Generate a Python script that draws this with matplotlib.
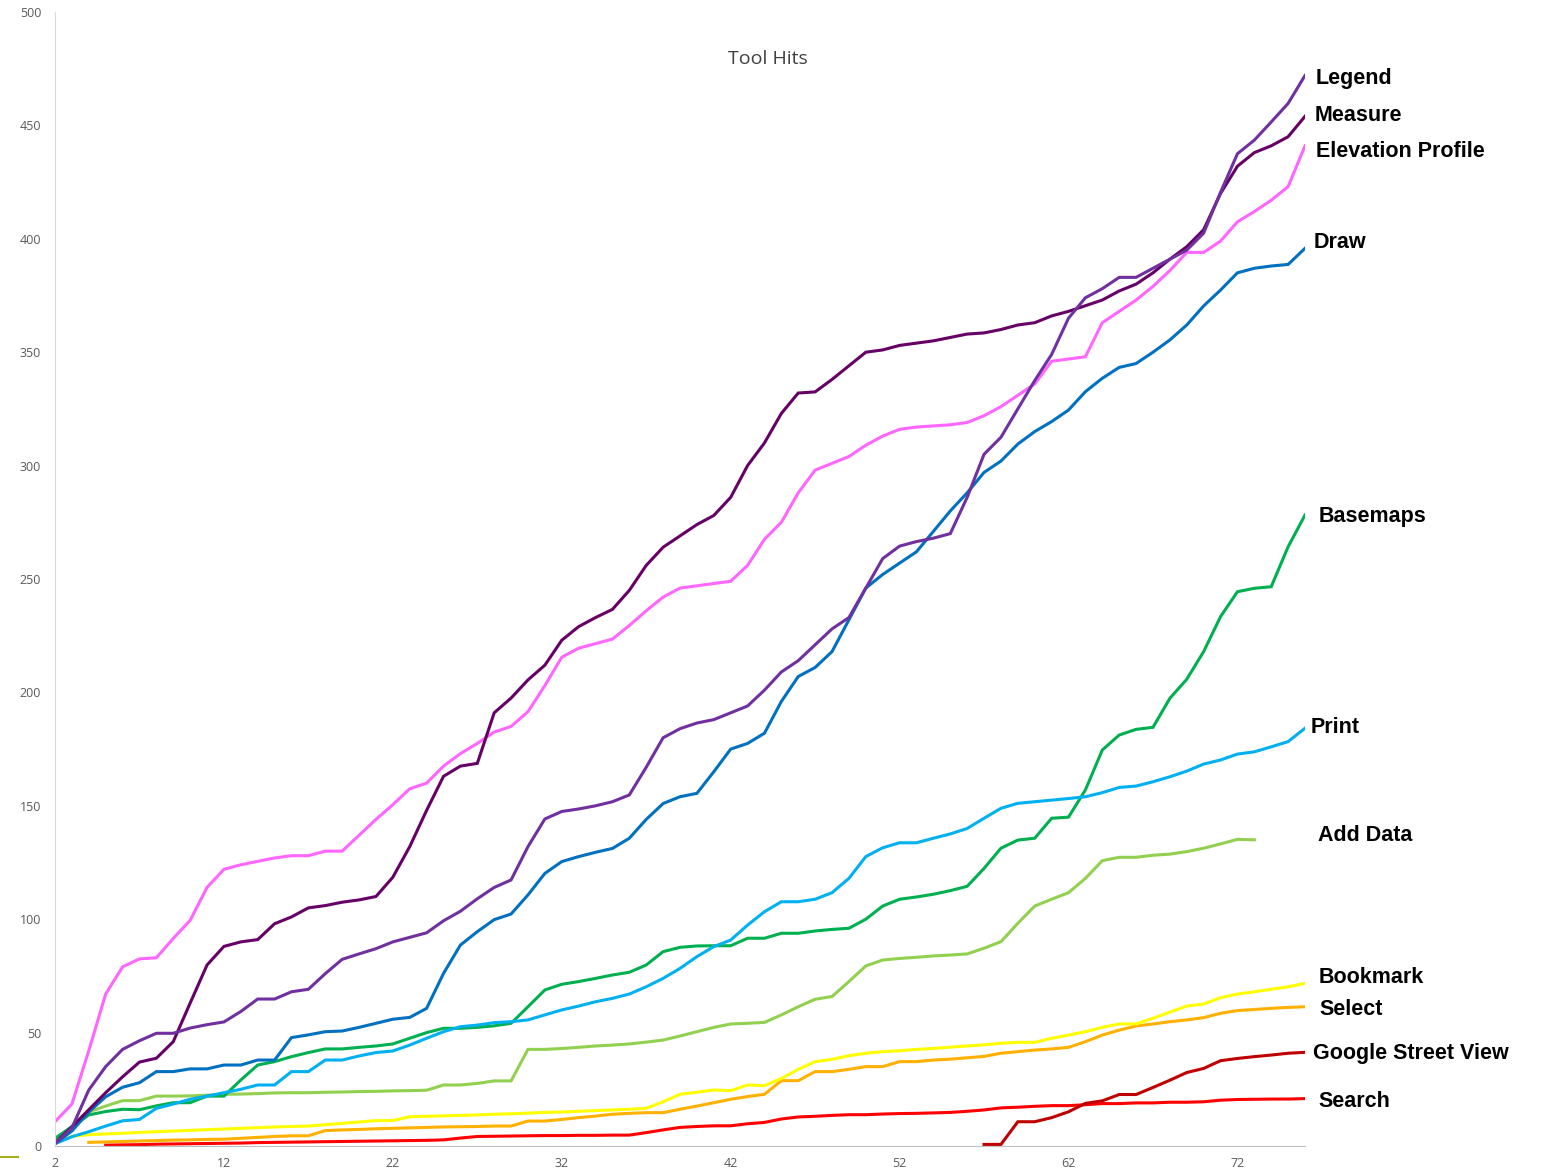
import numpy as np
import matplotlib.pyplot as plt
from matplotlib.lines import Line2D

nan = np.nan
days = list(range(2, 77))

# series values, one per day (2..76); nan where the tool had no line yet
elevation_profile = [10.7, 18.5, 42, 67, 79, 82.5, 83, 91.5, 99.5, 114, 122, 124, 125.5, 127, 128, 128,
                     130, 130, 137, 144, 150.5, 157.5, 160, 167.5, 173, 177.5, 182.5, 185, 191.5, 203,
                     215.5, 219.5, 221.5, 223.5, 229.5, 236, 242, 246, 247, 248, 249, 256, 267.5, 275,
                     288, 298, 301, 304, 309, 313, 316, 317, 317.5, 318, 319, 322, 326, 331, 336, 346,
                     347, 348, 363, 368, 373, 379, 386, 394, 394, 399, 407.5, 412, 417, 423, 441]
measure = [1.3, 8.5, 16, 23.5, 30.5, 37, 38.7, 46, 63, 79.8, 88, 90, 91, 98, 101, 105, 106, 107.5,
           108.5, 110, 118.5, 132, 148, 163, 167.5, 168.7, 191, 197.5, 205.5, 212, 223, 229, 233,
           236.6, 245, 256, 264, 269, 274, 278, 286, 300, 310, 323, 332, 332.5, 338, 344, 350, 351,
           353, 354, 355, 356.5, 358, 358.5, 360, 362, 363, 366, 368, 370.5, 373, 377, 380, 385,
           391, 396.5, 404, 420, 432, 438, 441, 445, 454]
legend = [1, 8, 24.7, 35, 42.6, 46.4, 49.7, 49.7, 52, 53.5, 54.7, 59.3, 64.8, 64.8, 68, 69.1, 76,
          82.3, 84.7, 87, 90, 92, 94, 99.3, 103.5, 109, 114, 117.3, 132, 144.2, 147.5, 148.6, 150,
          151.8, 154.8, 167, 180, 184, 186.5, 188, 191, 194, 201, 209, 214, 221, 228, 233, 246,
          259, 264.5, 266.5, 268, 270, 286, 305, 312.5, 325, 337.5, 349, 365, 374, 378, 383, 383,
          387, 391, 395, 402.5, 420.5, 437.5, 443.5, 451.5, 459.7, 472]
draw = [1, 6.6, 15, 21.7, 25.9, 27.9, 32.8, 32.8, 34, 34, 35.7, 35.7, 37.9, 37.9, 47.8, 49, 50.4,
        50.7, 52.3, 54.1, 55.9, 56.7, 60.7, 76.1, 88.6, 94.5, 99.8, 102.3, 110.7, 120.2, 125.4,
        127.6, 129.5, 131.2, 135.7, 144, 151, 154, 155.5, 165, 175, 177.5, 182, 196, 207, 211,
        218, 232, 246, 252, 257, 262, 271, 280, 288, 297, 302, 309.5, 315, 319.4, 324.5, 332.6,
        338.5, 343.3, 345, 350, 355.4, 362, 370.4, 377.4, 385, 387, 388, 388.7, 395.8]
basemaps = [3.4, 8.5, 13.7, 15.2, 16.2, 16, 17.7, 19.1, 19.1, 22, 22, 29.1, 35.7, 37.2, 39.4, 41.2,
            42.8, 42.8, 43.5, 44.1, 45, 47.5, 50, 51.9, 51.9, 52.3, 53, 54.1, 61.4, 68.8, 71.3, 72.5,
            73.9, 75.4, 76.6, 79.8, 85.7, 87.6, 88.2, 88.3, 88.3, 91.6, 91.6, 93.8, 93.8, 94.8, 95.5,
            96, 100, 105.8, 108.8, 109.8, 111, 112.6, 114.5, 122.4, 131.3, 134.9, 135.7, 144.5, 145,
            157, 174.6, 181.2, 183.7, 184.6, 197.4, 205.8, 218, 233.4, 244.4, 245.9, 246.6, 264.2,
            278.2]
print_hits = [1, 4.1, 6.3, 8.8, 11.1, 11.7, 16.6, 18.5, 20.6, 22, 23.5, 25, 26.9, 26.9, 32.8, 32.8,
              37.9, 37.9, 39.7, 41.2, 41.9, 44.5, 47.5, 50.4, 52.6, 53.3, 54.4, 54.8, 55.6, 57.8, 60,
              61.7, 63.6, 65.1, 67, 70.2, 73.9, 78.3, 83.5, 87.9, 90.8, 97.4, 103.3, 107.7, 107.7,
              108.8, 111.7, 118, 127.6, 131.5, 133.7, 133.7, 135.7, 137.6, 140, 144.5, 148.9, 151.1,
              151.8, 152.5, 153.2, 154, 155.8, 158.1, 158.7, 160.6, 162.8, 165.3, 168.4, 170.2,
              172.8, 173.8, 176, 178.3, 184.2]
add_data = [2, 8.5, 15, 17.6, 20, 20, 22, 22, 22.1, 22.4, 22.8, 22.9, 23.1, 23.4, 23.5, 23.5, 23.7,
            23.8, 24, 24.1, 24.3, 24.4, 24.6, 26.9, 26.9, 27.6, 28.7, 28.7, 42.6, 42.6, 43, 43.5,
            44.1, 44.5, 45, 45.8, 46.7, 48.5, 50.4, 52.3, 53.8, 54.1, 54.5, 57.8, 61.4, 64.7, 65.9,
            72.5, 79.4, 82, 82.7, 83.2, 83.8, 84.2, 84.7, 87.2, 90.1, 98.2, 105.8, 108.8, 111.7, 118,
            125.8, 127.3, 127.3, 128.2, 128.7, 129.8, 131.3, 133.2, 135.2, 135, nan, nan, nan]
bookmark = [1.5, 4.2, 5, 5.3, 5.6, 6, 6.3, 6.6, 6.9, 7.2, 7.5, 7.8, 8.1, 8.4, 8.6, 8.8, 9.4, 10, 10.6,
            11.2, 11.2, 12.9, 13.1, 13.3, 13.5, 13.7, 14, 14.2, 14.5, 14.8, 15, 15.3, 15.6, 15.9,
            16.2, 16.6, 19.5, 22.8, 23.7, 24.7, 24.4, 26.9, 26.6, 29.8, 33.8, 37.2, 38.2, 39.8, 40.9,
            41.6, 42, 42.6, 43, 43.6, 44.1, 44.6, 45.3, 45.7, 45.7, 47.5, 48.9, 50.4, 52.3, 53.8,
            53.8, 56.3, 59, 61.7, 62.6, 65.4, 67, 68, 69.1, 70.2, 71.7]
select = [nan, nan, 1.6, 1.8, 2, 2.2, 2.4, 2.6, 2.7, 2.9, 3, 3.4, 3.8, 4.2, 4.5, 4.5, 6.8, 7.1, 7.3,
          7.6, 7.8, 8, 8.2, 8.4, 8.5, 8.6, 8.8, 8.8, 11, 11, 11.7, 12.5, 13.2, 14, 14.4, 14.7, 14.7,
          16.2, 17.6, 19.1, 20.6, 21.8, 22.8, 28.8, 28.8, 32.8, 32.8, 33.8, 35, 35, 37.2, 37.2, 37.9,
          38.3, 38.9, 39.5, 40.9, 41.6, 42.3, 42.8, 43.5, 46, 48.9, 51.1, 52.9, 53.8, 54.8, 55.6,
          56.6, 58.5, 59.7, 60.2, 60.7, 61.1, 61.4]
google_street_view = [nan] * 55 + [0.7, 0.7, 10.7, 10.7, 12.5, 15.1, 18.8, 19.9, 22.7, 22.7, 25.8, 29,
                                   32.4, 34.2, 37.6, 38.6, 39.4, 40.1, 40.9, 41.3]
search = [nan, nan, nan, 0.4, 0.5, 0.6, 0.8, 0.9, 1, 1.1, 1.2, 1.3, 1.5, 1.6, 1.7, 1.8, 1.9, 2, 2.1,
          2.2, 2.3, 2.4, 2.5, 2.7, 3.5, 4.2, 4.3, 4.4, 4.5, 4.6, 4.6, 4.7, 4.7, 4.8, 4.8, 5.9, 7.1,
          8.2, 8.6, 8.9, 8.9, 9.8, 10.4, 11.9, 12.8, 13.1, 13.5, 13.8, 13.8, 14.1, 14.3, 14.4, 14.6,
          14.8, 15.3, 15.9, 16.8, 17.1, 17.5, 17.8, 17.8, 18.2, 18.7, 18.7, 19, 19, 19.3, 19.3, 19.5,
          20.2, 20.5, 20.6, 20.7, 20.7, 20.9]

# name, values, colour, label offset in pixels (dx, dy)
series = [
    ("Search", search, "#FF0000", (13, -3)),
    ("Google Street View", google_street_view, "#C00000", (8, -1)),
    ("Select", select, "#FFB000", (14, -3)),
    ("Bookmark", bookmark, "#FFFF00", (14, 6)),
    ("Add Data", add_data, "#92D050", (13, 4)),
    ("Basemaps", basemaps, "#00B050", (14, -1)),
    ("Print", print_hits, "#00B0F0", (6, 1)),
    ("Draw", draw, "#0070C0", (9, 6)),
    ("Elevation Profile", elevation_profile, "#FF66FF", (11, -6)),
    ("Measure", measure, "#660066", (10, 1)),
    ("Legend", legend, "#7030A0", (11, -3)),
]

fig = plt.figure(figsize=(15.42, 11.73), dpi=100)
ax = fig.add_axes([55 / 1542, 27 / 1173, 1250 / 1542, 1134 / 1173])

for name, vals, color, (dx, dy) in series:
    ax.plot(days, vals, color=color, linewidth=2.2, solid_joinstyle="miter")
    last = [v for v in vals if not np.isnan(v)][-1]
    ax.annotate(name, xy=(days[-1], last), xytext=(dx, dy), textcoords="offset pixels",
                ha="left", va="center", fontsize=15.5, fontweight="bold",
                family="Liberation Sans", color="black", annotation_clip=False)

ax.set_xlim(2, 76)
ax.set_ylim(0, 500)
ax.set_xticks(range(2, 77, 10))
ax.set_yticks(range(0, 501, 50))
ax.tick_params(length=0, labelsize=9, colors="#595959")
ax.tick_params(axis="y", pad=10)
ax.tick_params(axis="x", pad=8)
for s in ["top", "right"]:
    ax.spines[s].set_visible(False)
ax.spines["left"].set_color("#D9D9D9")
ax.spines["bottom"].set_color("#BFBFBF")
for lab in ax.get_xticklabels() + ax.get_yticklabels():
    lab.set_family("Open Sans")

fig.text(768 / 1542, 1 - 59 / 1173, "Tool Hits", ha="center", va="center",
         fontsize=14, color="#404040", family="Open Sans")

# stray legend key at the lower left corner
fig.add_artist(Line2D([0, 18 / 1542], [16 / 1173, 16 / 1173], color="#A5B01C", linewidth=1.5))

fig.savefig("out.png", dpi=100)
